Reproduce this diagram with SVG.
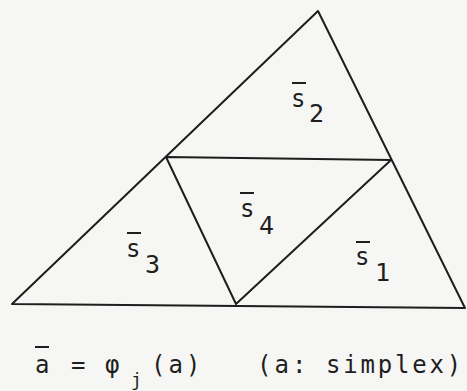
<svg xmlns="http://www.w3.org/2000/svg" width="467" height="391" viewBox="0 0 467 391">
<style>
.edge{stroke:#1e1e1e;stroke-width:2;fill:none;stroke-linejoin:round}
.t{font-family:"DejaVu Sans Mono","Liberation Mono",monospace;font-size:24px;fill:#1e1e1e}
.sub{font-family:"DejaVu Sans Mono","Liberation Mono",monospace;font-size:25px;fill:#1e1e1e}
.bar{stroke:#1e1e1e;stroke-width:2}
</style>
<rect width="467" height="391" fill="#f6f6f4"/>
<g id="connectors">
<polygon class="edge" points="318,11 12,304 465,308"/>
<polygon class="edge" points="166,157 391,160 236,304"/>
</g>
<g id="s2">
<line class="bar" x1="292" y1="83" x2="306" y2="83"/>
<text class="t" x="291" y="107">s</text>
<text class="sub" x="309" y="122">2</text>
</g>
<g id="s4">
<line class="bar" x1="240" y1="193" x2="254" y2="193"/>
<text class="t" x="240" y="217">s</text>
<text class="sub" x="259" y="234">4</text>
</g>
<g id="s3">
<line class="bar" x1="127" y1="233" x2="141" y2="233"/>
<text class="t" x="126" y="257">s</text>
<text class="sub" x="145" y="273">3</text>
</g>
<g id="s1">
<line class="bar" x1="356" y1="242" x2="370" y2="242"/>
<text class="t" x="355" y="265">s</text>
<text class="sub" x="375" y="281">1</text>
</g>
<g id="caption">
<line class="bar" x1="35" y1="347" x2="49" y2="347"/>
<text class="t" x="35" y="373">a</text>
<text class="t" x="71" y="373">=</text>
<text class="t" x="105" y="373">φ</text>
<text class="t" x="131" y="386" style="font-size:18px">j</text>
<text class="t" x="151" y="373" letter-spacing="3">(a)</text>
<text class="t" x="257" y="373" letter-spacing="3">(a:</text>
<text class="t" x="326" y="373" letter-spacing="2.8">simplex)</text>
</g>
</svg>
